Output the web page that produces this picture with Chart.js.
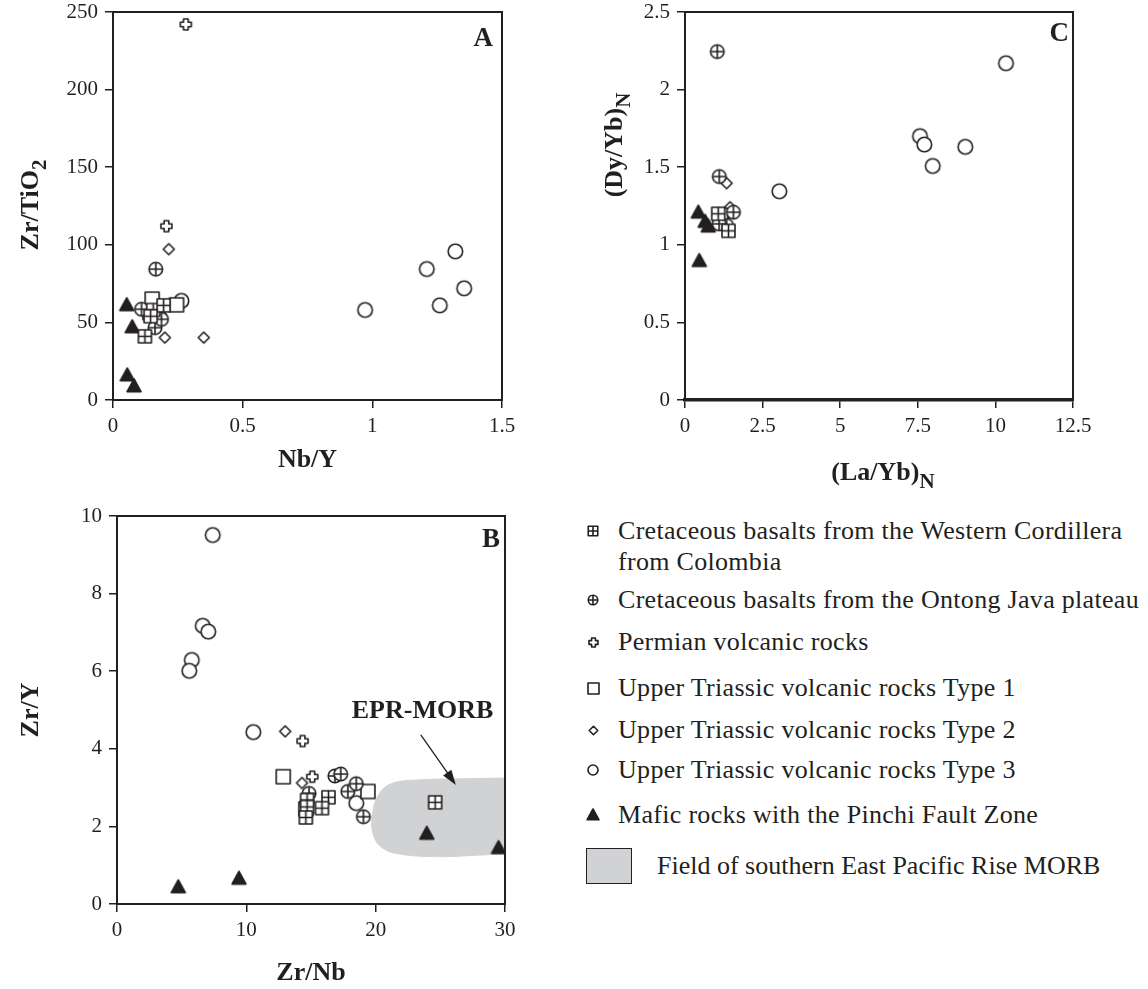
<!DOCTYPE html>
<html>
<head>
<meta charset="utf-8">
<script src="https://cdn.jsdelivr.net/npm/chart.js@4.4.1/dist/chart.umd.min.js"></script>
<style>
  body { margin: 0; background: #fff; }
  #page { position: relative; width: 1148px; height: 989px; overflow: hidden;
          font-family: 'Liberation Serif', 'Times New Roman', serif; color: #231f20; }
  canvas.chart { position: absolute; }
  .row { position: absolute; font-size: 26px; line-height: 31px; white-space: nowrap; letter-spacing: 0.3px; }
  .row.field { letter-spacing: 0; }
  .mark { position: absolute; }
  .box { position: absolute; left: 586px; top: 848px; width: 44px; height: 34px;
         background: #d1d2d4; border: 1.5px solid #231f20; }
</style>
</head>
<body>
<div id="page">
  <canvas id="chartA" class="chart" style="left:0;top:0" width="540" height="490"></canvas>
  <canvas id="chartC" class="chart" style="left:560px;top:0" width="588" height="490"></canvas>
  <canvas id="chartB" class="chart" style="left:0;top:490px" width="540" height="499"></canvas>
  <div id="legend"></div>
</div>
<script>
const ink = '#231f20';
const serif = "'Liberation Serif', 'Times New Roman', serif";

// series names (legend order)
const seriesNames = [
  'Cretaceous basalts from the Western Cordillera',
  'Cretaceous basalts from the Ontong Java plateau',
  'Permian volcanic rocks',
  'Upper Triassic volcanic rocks Type 1',
  'Upper Triassic volcanic rocks Type 2',
  'Upper Triassic volcanic rocks Type 3',
  'Mafic rocks with the Pinchi Fault Zone'
];
const fieldName = 'Field of southern East Pacific Rise  MORB';

// panel A: Nb/Y vs Zr/TiO2
const aCordillera = [[0.123, 41], [0.155, 58], [0.195, 61], [0.145, 54]];
const aOntong = [[0.165, 84.3], [0.11, 58.5], [0.162, 46.6], [0.187, 52]];
const aPermian = [[0.281, 242], [0.206, 112]];
const aType1 = [[0.151, 65], [0.245, 61.3], [0.142, 56.3]];
const aType2 = [[0.215, 97.2], [0.2, 40.2], [0.35, 40.2]];
const aType3 = [[0.264, 63.9], [0.18, 53], [0.972, 58], [1.21, 84.4], [1.32, 95.8], [1.26, 61], [1.354, 72]];
const aMafic = [[0.053, 61.3], [0.074, 47.1], [0.055, 16.1], [0.081, 9.0]];

// panel C: (La/Yb)N vs (Dy/Yb)N
const cCordillera = [[1.07, 1.2], [1.4, 1.09]];
const cOntong = [[1.04, 2.245], [1.105, 1.44], [1.56, 1.21], [1.34, 1.124], [1.1, 1.135]];
const cType1 = [[1.15, 1.19]];
const cType2 = [[1.34, 1.397], [1.45, 1.242]];
const cType3 = [[1.2, 1.15], [3.04, 1.345], [7.57, 1.70], [7.71, 1.646], [7.98, 1.508], [9.03, 1.631], [10.34, 2.17]];
const cMafic = [[0.43, 1.21], [0.65, 1.15], [0.75, 1.12], [0.46, 0.898]];

// panel B: Zr/Nb vs Zr/Y
const bCordillera = [[14.7, 2.68], [14.7, 2.5], [14.6, 2.23], [16.35, 2.75], [15.85, 2.47], [24.6, 2.62]];
const bOntong = [[14.85, 2.85], [16.85, 3.3], [17.3, 3.35], [17.85, 2.9], [18.5, 3.1], [19.05, 2.25]];
const bPermian = [[14.35, 4.2], [15.1, 3.28]];
const bType1 = [[12.85, 3.28], [19.4, 2.9], [14.6, 2.45]];
const bType2 = [[13.0, 4.45], [14.3, 3.12]];
const bType3 = [[7.4, 9.51], [6.63, 7.17], [7.06, 7.02], [5.78, 6.29], [5.59, 6.01], [10.54, 4.43], [18.5, 2.6]];
const bMafic = [[4.74, 0.44], [9.43, 0.66], [23.95, 1.82], [29.5, 1.45]];
// EPR-MORB field outline
const bField = [[31, 3.25], [27, 3.23], [23.5, 3.2], [21.2, 3.1], [20.2, 2.8], [19.75, 2.3],
                [19.8, 1.8], [20.5, 1.45], [22, 1.28], [25, 1.22], [28, 1.26], [31, 1.3]];

// marker glyphs drawn on little canvases
function makeMarker(kind, s) {
  const c = document.createElement('canvas');
  const w = Math.ceil(s + 4);
  c.width = w; c.height = w;
  const g = c.getContext('2d');
  const m = w / 2, r = s / 2;
  g.strokeStyle = ink;
  g.fillStyle = '#fff';
  g.lineWidth = 1.6;
  g.lineJoin = 'round';
  g.beginPath();
  if (kind === 'square' || kind === 'squarePlus') {
    g.rect(m - r, m - r, s, s);
  } else if (kind === 'circle' || kind === 'circlePlus') {
    g.arc(m, m, r, 0, Math.PI * 2);
  } else if (kind === 'diamond') {
    g.moveTo(m, m - r); g.lineTo(m + r, m); g.lineTo(m, m + r); g.lineTo(m - r, m); g.closePath();
  } else if (kind === 'cross') {
    const a = r * 0.42;
    const pts = [[-a, -r], [a, -r], [a, -a], [r, -a], [r, a], [a, a], [a, r], [-a, r], [-a, a], [-r, a], [-r, -a], [-a, -a]];
    pts.forEach((p, i) => i ? g.lineTo(m + p[0], m + p[1]) : g.moveTo(m + p[0], m + p[1]));
    g.closePath();
  } else if (kind === 'triangle') {
    g.moveTo(m, m - r); g.lineTo(m + r, m + r * 0.8); g.lineTo(m - r, m + r * 0.8); g.closePath();
    g.fillStyle = ink;
  }
  g.fill();
  g.stroke();
  if (kind.endsWith('Plus')) {
    g.beginPath();
    g.moveTo(m - r, m); g.lineTo(m + r, m);
    g.moveTo(m, m - r); g.lineTo(m, m + r);
    g.stroke();
  }
  return c;
}

const kinds = ['squarePlus', 'circlePlus', 'cross', 'square', 'diamond', 'circle', 'triangle'];
const plotSizes = [13, 13.5, 11, 14, 11, 14.5, 14];
const legendSizes = [9.5, 9.5, 9, 11, 8.5, 10, 12];
const plotMarks = kinds.map((k, i) => makeMarker(k, plotSizes[i]));

function points(arr) {
  return arr.map(p => ({x: p[0], y: p[1]}));
}

function series(sets) {
  return sets.map((arr, i) => ({
    label: seriesNames[i],
    data: points(arr),
    pointStyle: plotMarks[i],
    pointRadius: 7,
    pointHoverRadius: 7,
    order: 1
  }));
}

// title with optional subscript, centred on (x, y); y is the baseline for flat text
function drawTitle(ctx, x, y, main, sub, rotated, size) {
  ctx.save();
  ctx.translate(x, y);
  if (rotated) ctx.rotate(-Math.PI / 2);
  ctx.font = 'bold ' + size + 'px ' + serif;
  const wm = ctx.measureText(main).width;
  ctx.font = 'bold ' + Math.round(size * 0.8) + 'px ' + serif;
  const ws = sub ? ctx.measureText(sub).width : 0;
  const x0 = -(wm + ws) / 2;
  ctx.fillStyle = ink;
  ctx.textAlign = 'left';
  ctx.textBaseline = 'alphabetic';
  ctx.font = 'bold ' + size + 'px ' + serif;
  ctx.fillText(main, x0, 0);
  if (sub) {
    ctx.font = 'bold ' + Math.round(size * 0.8) + 'px ' + serif;
    ctx.fillText(sub, x0 + wm, size * 0.3);
  }
  ctx.restore();
}

const decor = {
  id: 'decor',
  afterDatasetsDraw(chart, args, o) {
    const ctx = chart.ctx, a = chart.chartArea;
    ctx.save();
    ctx.strokeStyle = ink;
    ctx.lineWidth = 2;
    ctx.strokeRect(a.left, a.top, a.right - a.left, a.bottom - a.top);
    ctx.fillStyle = ink;
    ctx.font = 'bold 27px ' + serif;
    ctx.textAlign = 'right';
    ctx.fillText(o.letter, a.right - o.letterDx, a.top + o.letterDy);
    drawTitle(ctx, (a.left + a.right) / 2 + o.xShift, o.xTitleY, o.xTitle, o.xSub, false, 26);
    drawTitle(ctx, o.yTitleX, o.yTitleMid, o.yTitle, o.ySub, true, 26);
    if (o.note) {
      const xs = chart.scales.x, ys = chart.scales.y;
      ctx.textAlign = 'left';
      ctx.font = 'bold 26px ' + serif;
      ctx.fillText(o.note.text, xs.getPixelForValue(o.note.at[0]), ys.getPixelForValue(o.note.at[1]));
      const x1 = xs.getPixelForValue(o.note.from[0]), y1 = ys.getPixelForValue(o.note.from[1]);
      const x2 = xs.getPixelForValue(o.note.to[0]), y2 = ys.getPixelForValue(o.note.to[1]);
      const ang = Math.atan2(y2 - y1, x2 - x1);
      ctx.lineWidth = 1.3;
      ctx.beginPath();
      ctx.moveTo(x1, y1);
      ctx.lineTo(x2 - 10 * Math.cos(ang), y2 - 10 * Math.sin(ang));
      ctx.stroke();
      ctx.beginPath();
      ctx.moveTo(x2, y2);
      ctx.lineTo(x2 - 15 * Math.cos(ang) + 5 * Math.sin(ang), y2 - 15 * Math.sin(ang) - 5 * Math.cos(ang));
      ctx.lineTo(x2 - 15 * Math.cos(ang) - 5 * Math.sin(ang), y2 - 15 * Math.sin(ang) + 5 * Math.cos(ang));
      ctx.closePath();
      ctx.fill();
    }
    ctx.restore();
  }
};

function axis(min, max, step, fit, isX, borderW) {
  return {
    type: 'linear',
    min: min,
    max: max,
    afterFit: s => {
      // fixed axis box, and no extra room for the end labels
      if (isX) { s.height = fit; s.paddingLeft = 0; s.paddingRight = 0; }
      else { s.width = fit; s.paddingTop = 0; s.paddingBottom = 0; }
    },
    ticks: { stepSize: step, color: ink, padding: isX ? 6 : 7, font: { family: serif, size: 21 },
             callback: v => String(v) },
    grid: { display: true, drawOnChartArea: false, drawTicks: true, tickLength: 8, color: ink, lineWidth: 1.5 },
    border: { display: true, color: ink, width: borderW || 2 }
  };
}

function makeChart(id, datasets, sx, sy, pad, decorOpts) {
  return new Chart(document.getElementById(id), {
    type: 'scatter',
    data: { datasets: datasets },
    options: {
      responsive: false,
      animation: false,
      devicePixelRatio: 1,
      layout: { padding: pad },
      scales: { x: sx, y: sy },
      plugins: { legend: { display: false }, tooltip: { enabled: false }, decor: decorOpts }
    },
    plugins: [decor]
  });
}

makeChart('chartA',
  series([aCordillera, aOntong, aPermian, aType1, aType2, aType3, aMafic]),
  axis(0, 1.5, 0.5, 90, true),
  axis(0, 250, 50, 113, false),
  { top: 12, right: 38, left: 0, bottom: 0 },
  { letter: 'A', letterDx: 9, letterDy: 34, xTitle: 'Nb/Y', xSub: '', xShift: 0, xTitleY: 467,
    yTitle: 'Zr/TiO', ySub: '2', yTitleX: 38, yTitleMid: 205 });

makeChart('chartC',
  series([cCordillera, cOntong, [], cType1, cType2, cType3, cMafic]),
  axis(0, 12.5, 2.5, 90, true, 3.5),
  axis(0, 2.5, 0.5, 125, false),
  { top: 12, right: 75, left: 0, bottom: 0 },
  { letter: 'C', letterDx: 4, letterDy: 29, xTitle: '(La/Yb)', xSub: 'N', xShift: 4, xTitleY: 480,
    yTitle: '(Dy/Yb)', ySub: 'N', yTitleX: 62, yTitleMid: 145 });

const bSets = series([bCordillera, bOntong, bPermian, bType1, bType2, bType3, bMafic]);
bSets.push({
  label: fieldName,
  data: points(bField),
  showLine: true,
  tension: 0.4,
  fill: 'shape',
  backgroundColor: '#d1d2d4',
  borderColor: '#d1d2d4',
  borderWidth: 1,
  pointRadius: 0,
  order: 10
});
makeChart('chartB', bSets,
  axis(0, 30, 10, 85, true),
  axis(0, 10, 2, 117, false),
  { top: 26, right: 35, left: 0, bottom: 0 },
  { letter: 'B', letterDx: 5, letterDy: 31, xTitle: 'Zr/Nb', xSub: '', xShift: 0, xTitleY: 490,
    yTitle: 'Zr/Y', ySub: '', yTitleX: 38, yTitleMid: 220,
    note: { text: 'EPR-MORB', at: [18.15, 4.79], from: [23.49, 4.36], to: [26.2, 3.07] } });

// legend on the right of panel B
const legendY = [531, 600, 642, 688, 730, 770, 815];
const legend = document.getElementById('legend');
seriesNames.forEach((name, i) => {
  const m = makeMarker(kinds[i], legendSizes[i]);
  m.className = 'mark';
  m.style.left = (593 - m.width / 2) + 'px';
  m.style.top = (legendY[i] - m.height / 2) + 'px';
  legend.appendChild(m);
  const row = document.createElement('div');
  row.className = 'row';
  row.style.left = '618px';
  row.style.top = (legendY[i] - 16) + 'px';
  if (i === 0) {
    row.innerHTML = name + '<br>from Colombia';
  } else {
    row.textContent = name;
  }
  legend.appendChild(row);
});
const box = document.createElement('div');
box.className = 'box';
legend.appendChild(box);
const fieldRow = document.createElement('div');
fieldRow.className = 'row field';
fieldRow.style.left = '657px';
fieldRow.style.top = '850px';
fieldRow.textContent = fieldName;
legend.appendChild(fieldRow);
</script>
</body>
</html>
